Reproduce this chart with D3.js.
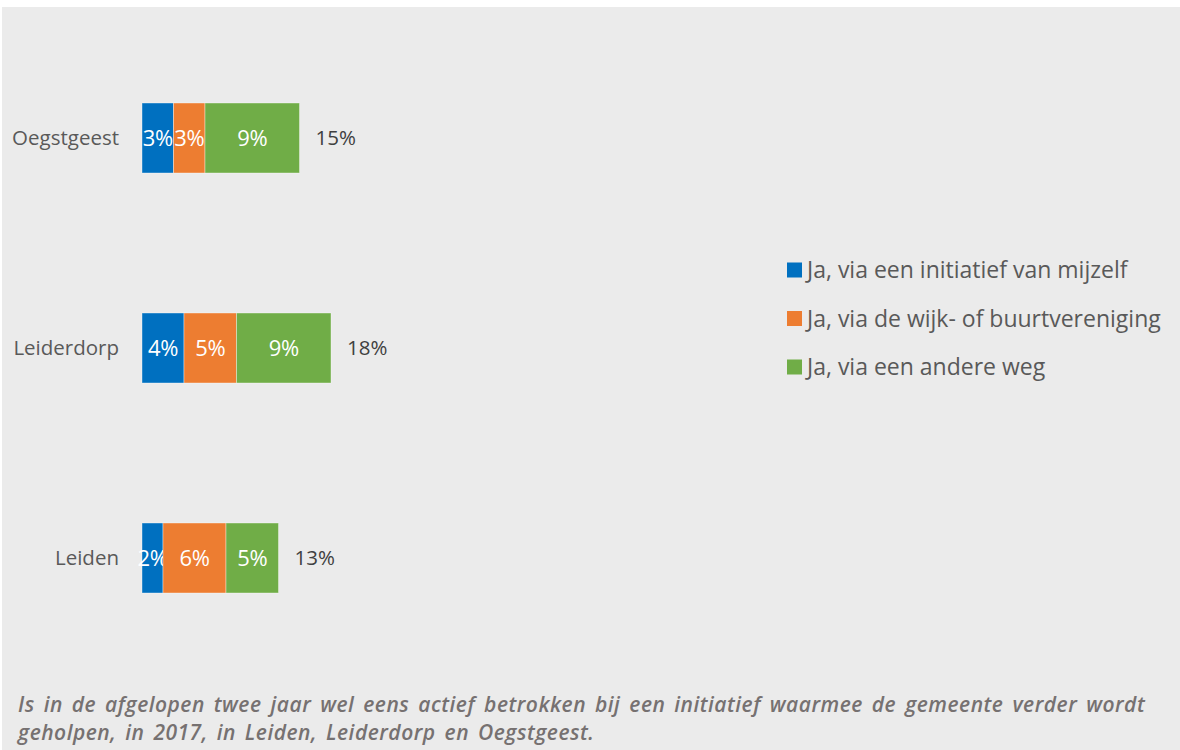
<!DOCTYPE html>
<html>
<head>
<meta charset="utf-8">
<script src="https://cdn.jsdelivr.net/npm/d3@7"></script>
<style>
  body { margin: 0; background: #fff; }
  svg { display: block; font-family: "Open Sans", sans-serif; }
</style>
</head>
<body>
<svg id="chart"></svg>
<script>
const categories = ['Oegstgeest', 'Leiderdorp', 'Leiden'];
const seriesNames = ['Ja, via een initiatief van mijzelf', 'Ja, via de wijk- of buurtvereniging', 'Ja, via een andere weg'];
const initiatief = [3, 4, 2];
const buurt = [3, 5, 6];
const andere = [9, 9, 5];
const totals = [15, 18, 13];
const colors = ['#0070C0', '#ED7D31', '#70AD47'];
const caption = [
  'Is in de afgelopen twee jaar wel eens actief betrokken bij een initiatief waarmee de gemeente verder wordt',
  'geholpen, in 2017, in Leiden, Leiderdorp en Oegstgeest.'
];

const width = 1180, height = 750;
const svg = d3.select('#chart').attr('width', width).attr('height', height);

svg.append('rect')
  .attr('x', 2).attr('y', 7)
  .attr('width', width - 2).attr('height', height - 7)
  .attr('fill', '#ebebeb');

const data = categories.map((c, i) => ({ cat: c, initiatief: initiatief[i], buurt: buurt[i], andere: andere[i], total: totals[i] }));
const keys = ['initiatief', 'buurt', 'andere'];
const stack = d3.stack().keys(keys)(data);

const x = d3.scaleLinear().domain([0, 20]).range([142, 352]);
const y = d3.scaleBand().domain(categories).range([33, 663]).paddingInner(2 / 3).paddingOuter(1 / 3);

const chart = svg.append('g');

const layers = chart.selectAll('g.layer').data(stack).enter()
  .append('g').attr('class', 'layer')
  .attr('fill', (d, i) => colors[i]);

layers.selectAll('rect').data(d => d).enter()
  .append('rect')
  .attr('x', d => x(d[0]))
  .attr('y', d => y(d.data.cat))
  .attr('width', d => x(d[1]) - x(d[0]))
  .attr('height', y.bandwidth())
  .attr('stroke', '#ffffff')
  .attr('stroke-opacity', 0.5)
  .attr('stroke-width', 0.75);

layers.selectAll('text').data(d => d).enter()
  .append('text')
  .attr('x', d => (x(d[0]) + x(d[1])) / 2)
  .attr('y', d => y(d.data.cat) + y.bandwidth() / 2)
  .attr('dy', '0.36em')
  .attr('text-anchor', 'middle')
  .attr('fill', '#fff')
  .style('font-size', '22px')
  .style('letter-spacing', '-0.5px')
  .text(d => (d[1] - d[0]) + '%');

chart.selectAll('text.total').data(data).enter()
  .append('text').attr('class', 'total')
  .attr('x', d => x(d.total) + 16)
  .attr('y', d => y(d.cat) + y.bandwidth() / 2)
  .attr('dy', '0.36em')
  .attr('fill', '#404040')
  .style('font-size', '20.5px')
  .text(d => d.total + '%');

chart.selectAll('text.cat').data(categories).enter()
  .append('text').attr('class', 'cat')
  .attr('x', 119)
  .attr('y', d => y(d) + y.bandwidth() / 2)
  .attr('dy', '0.36em')
  .attr('text-anchor', 'end')
  .attr('fill', '#595959')
  .style('font-size', '20.5px')
  .text(d => d);

const legend = svg.append('g').attr('transform', 'translate(787, 270)');
const li = legend.selectAll('g').data(seriesNames).enter()
  .append('g').attr('transform', (d, i) => `translate(0, ${i * 48.5})`);
li.append('rect').attr('x', 0).attr('y', -7.5).attr('width', 15).attr('height', 15)
  .attr('fill', (d, i) => colors[i]);
li.append('text').attr('x', 20).attr('dy', '0.36em')
  .attr('fill', '#595959').style('font-size', '23px')
  .text(d => d);

svg.append('g').selectAll('text').data(caption).enter()
  .append('text')
  .attr('x', 18)
  .attr('y', (d, i) => 712 + i * 28)
  .attr('fill', '#767171')
  .style('font-size', '21px')
  .style('font-style', 'italic')
  .style('font-weight', 600)
  .style('letter-spacing', '0.5px')
  .style('word-spacing', '3px')
  .text(d => d);
</script>
</body>
</html>
